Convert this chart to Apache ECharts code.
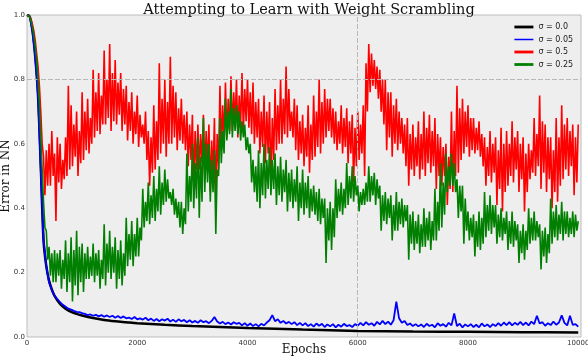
<!DOCTYPE html>
<html>
<head>
<meta charset="utf-8">
<script src="https://cdn.jsdelivr.net/npm/echarts@6/dist/echarts.min.js"></script>
<style>
    html, body { margin: 0; padding: 0; background: #fff; }
    #chart { width: 588px; height: 358px; }
</style>
</head>
<body>
<div id="chart"></div>
<script>
// epochs every 50 (sigma = 0.05 run)
var epochs = [0,
    50,100,150,200,250,300,350,400,450,500,550,600,650,700,750,800,850,900,950,1000,
    1050,1100,1150,1200,1250,1300,1350,1400,1450,1500,1550,1600,1650,1700,1750,1800,1850,1900,1950,2000,
    2050,2100,2150,2200,2250,2300,2350,2400,2450,2500,2550,2600,2650,2700,2750,2800,2850,2900,2950,3000,
    3050,3100,3150,3200,3250,3300,3350,3400,3450,3500,3550,3600,3650,3700,3750,3800,3850,3900,3950,4000,
    4050,4100,4150,4200,4250,4300,4350,4400,4450,4500,4550,4600,4650,4700,4750,4800,4850,4900,4950,5000,
    5050,5100,5150,5200,5250,5300,5350,5400,5450,5500,5550,5600,5650,5700,5750,5800,5850,5900,5950,6000,
    6050,6100,6150,6200,6250,6300,6350,6400,6450,6500,6550,6600,6650,6700,6750,6800,6850,6900,6950,7000,
    7050,7100,7150,7200,7250,7300,7350,7400,7450,7500,7550,7600,7650,7700,7750,7800,7850,7900,7950,8000,
    8050,8100,8150,8200,8250,8300,8350,8400,8450,8500,8550,8600,8650,8700,8750,8800,8850,8900,8950,9000,
    9050,9100,9150,9200,9250,9300,9350,9400,9450,9500,9550,9600,9650,9700,9750,9800,9850,9900,9950,10000];

// epochs every 25 (the two noisy runs, sigma = 0.5 and 0.25)
var epochsFine = [0,
    25,50,75,100,125,150,175,200,225,250,275,300,325,350,375,400,425,450,475,500,
    525,550,575,600,625,650,675,700,725,750,775,800,825,850,875,900,925,950,975,1000,
    1025,1050,1075,1100,1125,1150,1175,1200,1225,1250,1275,1300,1325,1350,1375,1400,1425,1450,1475,1500,
    1525,1550,1575,1600,1625,1650,1675,1700,1725,1750,1775,1800,1825,1850,1875,1900,1925,1950,1975,2000,
    2025,2050,2075,2100,2125,2150,2175,2200,2225,2250,2275,2300,2325,2350,2375,2400,2425,2450,2475,2500,
    2525,2550,2575,2600,2625,2650,2675,2700,2725,2750,2775,2800,2825,2850,2875,2900,2925,2950,2975,3000,
    3025,3050,3075,3100,3125,3150,3175,3200,3225,3250,3275,3300,3325,3350,3375,3400,3425,3450,3475,3500,
    3525,3550,3575,3600,3625,3650,3675,3700,3725,3750,3775,3800,3825,3850,3875,3900,3925,3950,3975,4000,
    4025,4050,4075,4100,4125,4150,4175,4200,4225,4250,4275,4300,4325,4350,4375,4400,4425,4450,4475,4500,
    4525,4550,4575,4600,4625,4650,4675,4700,4725,4750,4775,4800,4825,4850,4875,4900,4925,4950,4975,5000,
    5025,5050,5075,5100,5125,5150,5175,5200,5225,5250,5275,5300,5325,5350,5375,5400,5425,5450,5475,5500,
    5525,5550,5575,5600,5625,5650,5675,5700,5725,5750,5775,5800,5825,5850,5875,5900,5925,5950,5975,6000,
    6025,6050,6075,6100,6125,6150,6175,6200,6225,6250,6275,6300,6325,6350,6375,6400,6425,6450,6475,6500,
    6525,6550,6575,6600,6625,6650,6675,6700,6725,6750,6775,6800,6825,6850,6875,6900,6925,6950,6975,7000,
    7025,7050,7075,7100,7125,7150,7175,7200,7225,7250,7275,7300,7325,7350,7375,7400,7425,7450,7475,7500,
    7525,7550,7575,7600,7625,7650,7675,7700,7725,7750,7775,7800,7825,7850,7875,7900,7925,7950,7975,8000,
    8025,8050,8075,8100,8125,8150,8175,8200,8225,8250,8275,8300,8325,8350,8375,8400,8425,8450,8475,8500,
    8525,8550,8575,8600,8625,8650,8675,8700,8725,8750,8775,8800,8825,8850,8875,8900,8925,8950,8975,9000,
    9025,9050,9075,9100,9125,9150,9175,9200,9225,9250,9275,9300,9325,9350,9375,9400,9425,9450,9475,9500,
    9525,9550,9575,9600,9625,9650,9675,9700,9725,9750,9775,9800,9825,9850,9875,9900,9925,9950,9975,10000];

// sigma = 0.0 is smooth, fewer points
var epochsBlack = [0,50,100,150,200,250,300,350,400,450,500,600,700,800,900,1000,1200,1400,1600,1800,2000,2500,3000,3500,4000,5000,6000,7000,8000,9000,10000];
var sigma00 = [1.0,0.995,0.95,0.87,0.75,0.53,0.30,0.22,0.175,0.148,0.128,0.103,0.088,0.078,0.072,0.067,0.059,0.053,0.049,0.046,0.043,0.038,0.034,0.031,0.028,0.023,0.019,0.017,0.016,0.015,0.014];

var sigma005 = [1.0,
    0.995,0.95,0.87,0.75,0.52,0.30,0.22,0.17,0.145,0.128,0.118,0.108,0.1,0.094,0.088,0.085,0.081,0.078,0.077,0.074,
    0.072,0.068,0.070,0.066,0.069,0.064,0.068,0.063,0.067,0.062,0.066,0.060,0.065,0.059,0.064,0.058,0.060,0.056,0.062,0.055,
    0.058,0.054,0.060,0.052,0.057,0.050,0.056,0.049,0.055,0.051,0.057,0.048,0.054,0.047,0.055,0.049,0.053,0.046,0.052,0.045,
    0.050,0.044,0.052,0.046,0.049,0.043,0.050,0.062,0.048,0.042,0.047,0.040,0.045,0.039,0.046,0.041,0.044,0.036,0.043,0.035,
    0.042,0.034,0.040,0.033,0.041,0.036,0.045,0.052,0.068,0.049,0.055,0.044,0.050,0.042,0.047,0.040,0.046,0.037,0.044,0.036,
    0.043,0.034,0.040,0.032,0.042,0.035,0.041,0.031,0.039,0.033,0.040,0.030,0.038,0.032,0.041,0.034,0.037,0.031,0.040,0.035,
    0.044,0.036,0.046,0.038,0.043,0.035,0.047,0.039,0.050,0.040,0.048,0.038,0.052,0.110,0.058,0.044,0.050,0.037,0.042,0.034,
    0.040,0.033,0.039,0.031,0.041,0.034,0.038,0.030,0.043,0.035,0.040,0.032,0.044,0.036,0.073,0.034,0.041,0.030,0.039,0.033,
    0.040,0.031,0.038,0.030,0.042,0.033,0.039,0.031,0.040,0.034,0.043,0.035,0.045,0.037,0.046,0.036,0.044,0.038,0.047,0.037,
    0.045,0.036,0.048,0.040,0.066,0.042,0.046,0.035,0.043,0.037,0.048,0.038,0.045,0.067,0.044,0.036,0.066,0.038,0.040,0.032];

var sigma05 = [1.0,0.999,0.995,0.985,0.97,0.95,0.92,0.88,0.84,0.78,0.70,0.60,
    0.56,0.44,0.58,0.47, 0.60,0.47,0.64,0.50, 0.57,0.36,0.62,0.48, 0.60,0.46,0.55,0.49, 0.62,0.50,0.78,0.52,
    0.72,0.53,0.66,0.56, 0.70,0.50,0.64,0.54, 0.76,0.55,0.70,0.58, 0.74,0.57,0.68,0.60, 0.83,0.62,0.76,0.64,
    0.82,0.63,0.75,0.66, 0.89,0.66,0.80,0.68, 0.91,0.64,0.82,0.67, 0.86,0.66,0.79,0.69, 0.82,0.64,0.77,0.66,
    0.78,0.61,0.73,0.64, 0.76,0.60,0.70,0.63, 0.75,0.59,0.69,0.62, 0.66,0.60,0.70,0.55, 0.64,0.47,0.62,0.51,
    0.72,0.52,0.67,0.55, 0.85,0.57,0.74,0.60, 0.80,0.56,0.73,0.60, 0.87,0.60,0.78,0.62, 0.76,0.58,0.71,0.61,
    0.74,0.60,0.69,0.58, 0.70,0.53,0.66,0.55, 0.69,0.47,0.64,0.52, 0.66,0.52,0.63,0.54, 0.69,0.50,0.64,0.53,
    0.66,0.45,0.61,0.50, 0.68,0.43,0.63,0.52, 0.78,0.58,0.72,0.61, 0.79,0.62,0.74,0.64, 0.81,0.64,0.76,0.66,
    0.80,0.62,0.75,0.65, 0.82,0.64,0.77,0.67, 0.80,0.65,0.76,0.63, 0.79,0.60,0.73,0.62, 0.74,0.57,0.70,0.59,
    0.75,0.54,0.70,0.57, 0.73,0.47,0.68,0.55, 0.77,0.58,0.72,0.60, 0.80,0.60,0.74,0.63, 0.84,0.62,0.77,0.64,
    0.70,0.62,0.74,0.58, 0.72,0.55,0.67,0.57, 0.69,0.53,0.65,0.56, 0.72,0.51,0.66,0.55, 0.75,0.56,0.70,0.59,
    0.80,0.57,0.73,0.60, 0.77,0.62,0.74,0.64, 0.74,0.62,0.71,0.60, 0.70,0.58,0.67,0.60, 0.72,0.57,0.68,0.59,
    0.71,0.54,0.67,0.57, 0.69,0.48,0.65,0.53, 0.70,0.55,0.66,0.57, 0.72,0.50,0.85,0.70, 0.91,0.76,0.88,0.78,
    0.86,0.77,0.84,0.74, 0.83,0.70,0.80,0.66, 0.80,0.58,0.76,0.62, 0.76,0.56,0.72,0.60, 0.74,0.58,0.70,0.60,
    0.68,0.57,0.66,0.53, 0.68,0.47,0.63,0.52, 0.66,0.50,0.62,0.53, 0.67,0.49,0.63,0.52, 0.70,0.50,0.65,0.54,
    0.69,0.51,0.64,0.53, 0.68,0.46,0.63,0.50, 0.62,0.47,0.59,0.50, 0.60,0.41,0.56,0.46, 0.70,0.45,0.64,0.50,
    0.78,0.51,0.71,0.55, 0.74,0.57,0.70,0.59, 0.72,0.56,0.68,0.58, 0.68,0.57,0.65,0.58, 0.67,0.56,0.63,0.53,
    0.62,0.47,0.59,0.50, 0.64,0.48,0.60,0.51, 0.62,0.41,0.58,0.46, 0.65,0.39,0.60,0.45, 0.64,0.47,0.60,0.50,
    0.67,0.48,0.62,0.52, 0.64,0.45,0.60,0.49, 0.62,0.39,0.57,0.45, 0.60,0.49,0.58,0.51, 0.68,0.50,0.63,0.53,
    0.75,0.46,0.67,0.51, 0.66,0.45,0.62,0.49, 0.62,0.40,0.58,0.45, 0.68,0.42,0.62,0.47, 0.72,0.49,0.66,0.52,
    0.68,0.50,0.64,0.53, 0.66,0.44,0.62,0.48, 0.66];

var sigma025 = [1.0,0.999,0.995,0.98,0.96,0.935,0.90,0.86,0.80,0.72,0.62,0.52,
    0.42,0.34,0.33,0.24, 0.28,0.19,0.26,0.17, 0.27,0.17,0.26,0.19, 0.27,0.15,0.24,0.18, 0.30,0.14,0.26,0.17,
    0.31,0.11,0.27,0.16, 0.33,0.13,0.28,0.17, 0.29,0.14,0.26,0.18, 0.28,0.18,0.25,0.19, 0.29,0.17,0.26,0.19,
    0.27,0.15,0.24,0.18, 0.35,0.16,0.29,0.20, 0.33,0.18,0.28,0.20, 0.31,0.15,0.27,0.18, 0.30,0.16,0.26,0.19,
    0.37,0.22,0.32,0.24, 0.36,0.22,0.32,0.25, 0.37,0.25,0.34,0.30, 0.46,0.34,0.42,0.36, 0.48,0.35,0.44,0.37,
    0.50,0.36,0.46,0.39, 0.53,0.38,0.48,0.41, 0.52,0.42,0.49,0.43, 0.45,0.41,0.46,0.38, 0.43,0.37,0.42,0.34,
    0.42,0.32,0.40,0.35, 0.57,0.39,0.50,0.42, 0.60,0.40,0.54,0.43, 0.62,0.37,0.56,0.42, 0.68,0.45,0.60,0.48,
    0.60,0.42,0.55,0.45, 0.58,0.32,0.52,0.50, 0.68,0.54,0.64,0.57, 0.74,0.61,0.70,0.63, 0.77,0.62,0.71,0.64,
    0.72,0.63,0.70,0.61, 0.67,0.62,0.66,0.58, 0.62,0.57,0.60,0.48, 0.55,0.45,0.53,0.42, 0.58,0.40,0.54,0.44,
    0.60,0.43,0.55,0.46, 0.59,0.44,0.55,0.46, 0.57,0.41,0.53,0.44, 0.56,0.42,0.52,0.45, 0.55,0.39,0.51,0.42,
    0.52,0.40,0.49,0.42, 0.53,0.36,0.48,0.40, 0.52,0.38,0.48,0.40, 0.50,0.37,0.46,0.39, 0.47,0.38,0.45,0.36,
    0.46,0.35,0.43,0.37, 0.43,0.23,0.40,0.30, 0.42,0.27,0.40,0.31, 0.49,0.37,0.46,0.39, 0.48,0.38,0.46,0.40,
    0.54,0.41,0.50,0.43, 0.53,0.42,0.50,0.44, 0.47,0.39,0.45,0.41, 0.46,0.41,0.48,0.42, 0.53,0.42,0.50,0.44,
    0.51,0.41,0.49,0.43, 0.47,0.33,0.44,0.36, 0.45,0.35,0.43,0.37, 0.44,0.30,0.41,0.33, 0.45,0.33,0.42,0.35,
    0.43,0.34,0.41,0.36, 0.41,0.24,0.38,0.29, 0.39,0.27,0.36,0.29, 0.38,0.26,0.35,0.28, 0.40,0.28,0.37,0.30,
    0.39,0.27,0.36,0.30, 0.46,0.30,0.42,0.33, 0.54,0.34,0.48,0.38, 0.57,0.45,0.53,0.47, 0.57,0.47,0.54,0.45,
    0.49,0.37,0.47,0.39, 0.47,0.29,0.43,0.33, 0.39,0.30,0.37,0.31, 0.38,0.25,0.36,0.28, 0.39,0.27,0.37,0.29,
    0.45,0.31,0.41,0.33, 0.44,0.32,0.41,0.34, 0.41,0.29,0.38,0.31, 0.40,0.30,0.37,0.32, 0.39,0.27,0.36,0.29,
    0.39,0.28,0.36,0.30, 0.35,0.23,0.33,0.26, 0.35,0.24,0.33,0.27, 0.40,0.29,0.37,0.30, 0.39,0.30,0.36,0.31,
    0.35,0.21,0.33,0.25, 0.34,0.23,0.32,0.26, 0.43,0.29,0.39,0.31, 0.41,0.30,0.38,0.32, 0.42,0.30,0.39,0.32,
    0.39,0.31,0.37,0.32, 0.39,0.31,0.38,0.33, 0.36];

var seriesNames = ["σ = 0.0", "σ = 0.05", "σ = 0.5", "σ = 0.25"];
var seriesColors = ["#000000", "#0000ff", "#ff0000", "#007f00"];

function toPairs(xs, ys) {
    var out = [];
    for (var i = 0; i < ys.length; i++) {
        out.push([xs[i], ys[i]]);
    }
    return out;
}

var myChart = echarts.init(document.getElementById("chart"), null, { renderer: "canvas" });

function lineSeries(name, color, width, data, z, smooth) {
    return {
        name: name,
        type: "line",
        data: data,
        symbol: "none",
        smooth: smooth ? 0.3 : false,
        z: z,
        lineStyle: { color: color, width: width },
        itemStyle: { color: color },
        silent: true
    };
}

// legend shows just a line, hide the circle marker
function legendItem(i, width) {
    return {
        name: seriesNames[i],
        lineStyle: { width: width, color: seriesColors[i] },
        itemStyle: { opacity: 0 }
    };
}

var option = {
    animation: false,
    backgroundColor: "#ffffff",
    title: {
        text: "Attempting to Learn with Weight Scrambling",
        left: 304,
        textAlign: "center",
        top: -2,
        textStyle: { fontFamily: "DejaVu Serif", fontSize: 14.5, fontWeight: "normal", color: "#111" }
    },
    legend: {
        orient: "vertical",
        left: 513,
        top: 23,
        padding: 0,
        itemWidth: 19,
        itemHeight: 10,
        itemGap: 4.5,
        textStyle: { fontFamily: "DejaVu Sans", fontSize: 8, color: "#222" },
        data: [
            legendItem(0, 2.8),
            legendItem(1, 1.5),
            legendItem(2, 2.8),
            legendItem(3, 2.8)
        ]
    },
    grid: {
        left: 27,
        right: 7,
        top: 15,
        bottom: 21,
        outerBoundsMode: "none",
        containLabel: false,
        show: true,
        backgroundColor: "#eeeeee",
        borderColor: "#bcbcbc",
        borderWidth: 1
    },
    xAxis: {
        type: "value",
        min: 0,
        max: 10050,
        interval: 2000,
        name: "Epochs",
        nameLocation: "middle",
        nameGap: 7,
        nameMoveOverlap: false,
        nameTextStyle: { fontFamily: "DejaVu Serif", fontSize: 12, color: "#111", verticalAlign: "top" },
        axisLine: { show: false },
        axisTick: { show: false },
        splitLine: { show: false },
        axisLabel: {
            fontSize: 7,
            fontFamily: "DejaVu Sans",
            color: "#333",
            margin: 3,
            formatter: function (v) { return v > 10000 ? "" : String(v); }
        }
    },
    yAxis: {
        type: "value",
        min: 0,
        max: 1.0,
        interval: 0.2,
        name: "Error in NN",
        nameLocation: "middle",
        nameGap: 15,
        nameMoveOverlap: false,
        nameTextStyle: { fontFamily: "DejaVu Serif", fontSize: 12, color: "#111" },
        axisLine: { show: false },
        axisTick: { show: false },
        splitLine: { show: false },
        axisLabel: {
            fontSize: 7,
            fontFamily: "DejaVu Sans",
            color: "#333",
            margin: 2,
            formatter: function (v) { return v.toFixed(1); }
        }
    },
    series: [
        {
            // only the 0.8 and 6000 grid lines show in the picture
            name: "grid",
            type: "line",
            data: [],
            z: 1,
            silent: true,
            markLine: {
                silent: true,
                symbol: "none",
                label: { show: false },
                lineStyle: { color: "#b8b8b8", type: [5, 2], width: 1 },
                data: [{ yAxis: 0.8 }, { xAxis: 6000 }]
            }
        },
        lineSeries(seriesNames[0], seriesColors[0], 2.5, toPairs(epochsBlack, sigma00), 2, true),
        lineSeries(seriesNames[1], seriesColors[1], 1.8, toPairs(epochs, sigma005), 3, false),
        lineSeries(seriesNames[2], seriesColors[2], 1.6, toPairs(epochsFine, sigma05), 4, false),
        lineSeries(seriesNames[3], seriesColors[3], 1.6, toPairs(epochsFine, sigma025), 5, false)
    ]
};
myChart.setOption(option);
</script>
</body>
</html>
